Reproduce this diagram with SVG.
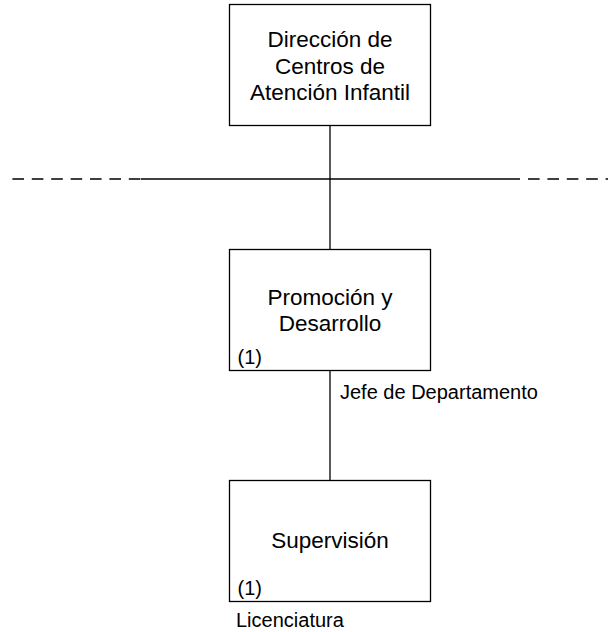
<svg xmlns="http://www.w3.org/2000/svg" width="608" height="632" viewBox="0 0 608 632">
<style>
.box{fill:#fff;stroke:#000;stroke-width:1.3}
.t{font-family:"Liberation Sans",Arial,sans-serif;font-size:22.5px;fill:#000;text-anchor:middle}
.s{font-family:"Liberation Sans",Arial,sans-serif;font-size:20px;fill:#000}
.ln{stroke:#000;stroke-width:1.3;fill:none}
.dash{stroke-dasharray:11.6 7.8}
</style>
<rect width="608" height="632" fill="#fff"/>
<g id="connectors">
<line class="ln" x1="330" y1="126" x2="330" y2="249"/>
<line class="ln" x1="141" y1="179" x2="520" y2="179"/>
<line class="ln dash" x1="12.4" y1="179" x2="141" y2="179"/>
<line class="ln dash" x1="528" y1="179" x2="608" y2="179"/>
<line class="ln" x1="330" y1="371" x2="330" y2="480"/>
<text class="s" x="340" y="399">Jefe de Departamento</text>
</g>
<g id="n1">
<rect class="box" x="229.5" y="4.5" width="201" height="121"/>
<text class="t" x="330" y="47">Dirección de</text>
<text class="t" x="330" y="73.5">Centros de</text>
<text class="t" x="330" y="100">Atención Infantil</text>
</g>
<g id="n2">
<rect class="box" x="229.5" y="249.5" width="201" height="121"/>
<text class="t" x="330" y="305">Promoción y</text>
<text class="t" x="330" y="331">Desarrollo</text>
<text class="s" x="237.5" y="364">(1)</text>
</g>
<g id="n3">
<rect class="box" x="229.5" y="480.5" width="201" height="121"/>
<text class="t" x="330" y="548">Supervisión</text>
<text class="s" x="237.5" y="595">(1)</text>
<text class="s" x="236" y="627">Licenciatura</text>
</g>
</svg>
